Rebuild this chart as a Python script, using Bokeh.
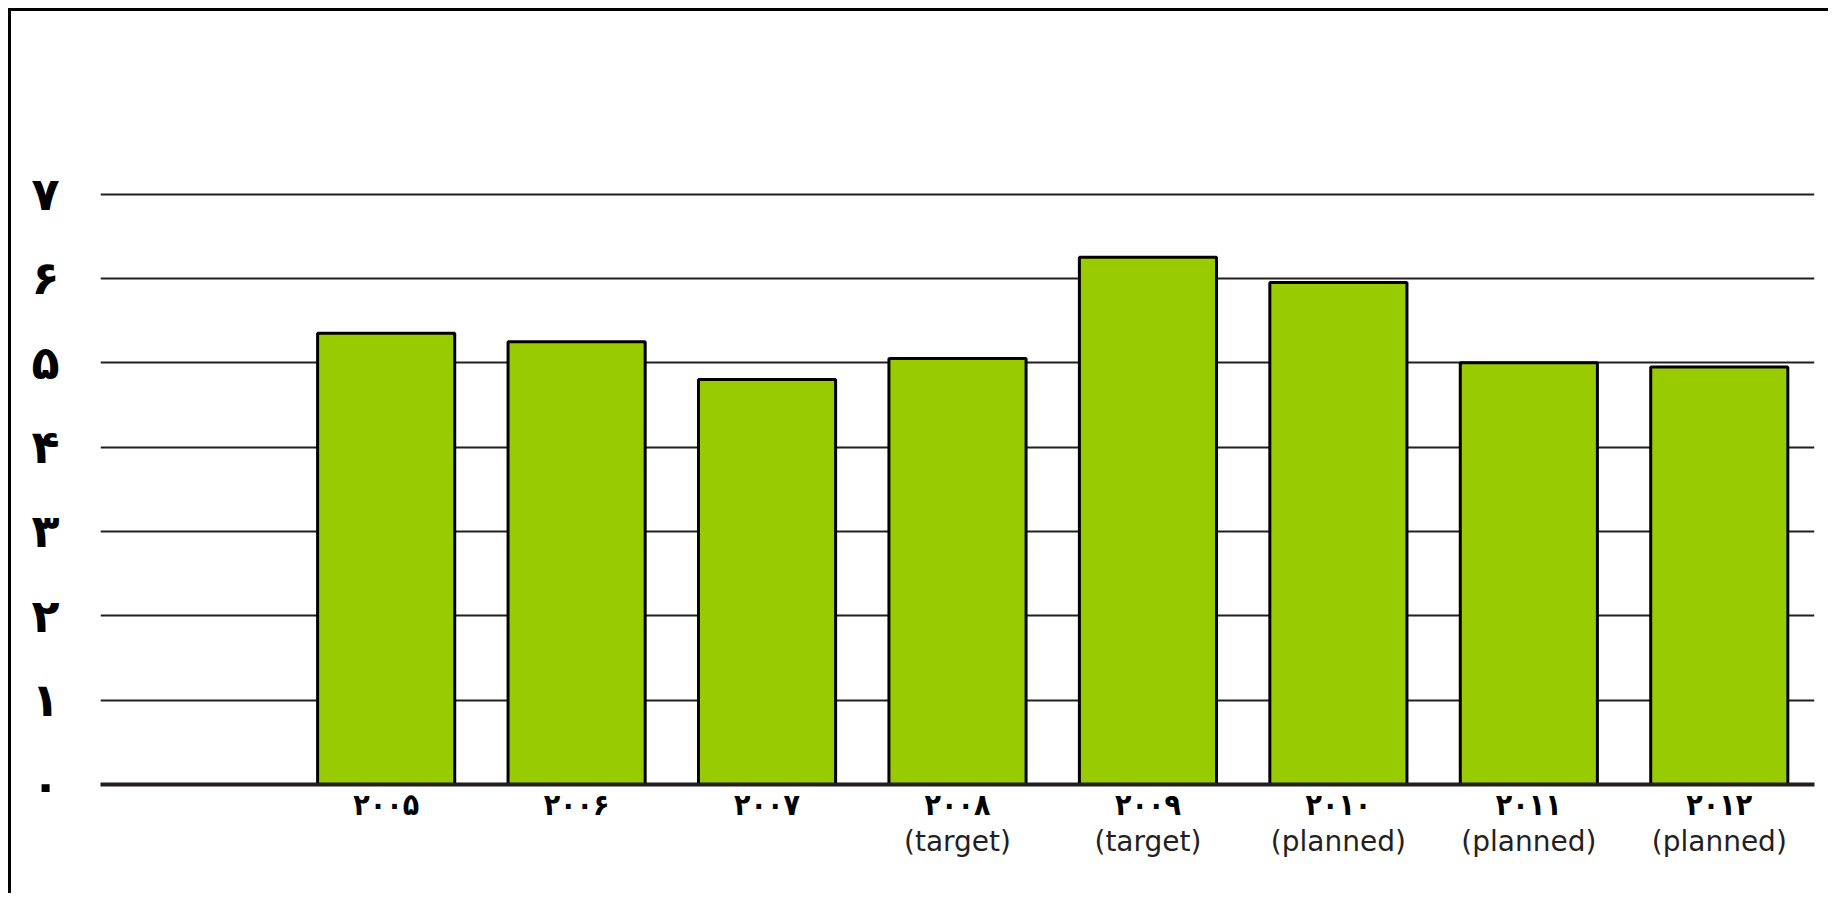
from bokeh.plotting import figure
from bokeh.models import (FactorRange, Range1d, FixedTicker, CategoricalAxis,
                          ColumnDataSource, CustomJSTickFormatter)
from bokeh.embed import file_html
from bokeh.resources import INLINE

# ---- data ----
factors = ["-", "2005", "2006", "2007", "2008", "2009", "2010", "2011", "2012"]
years = ["2005", "2006", "2007", "2008", "2009", "2010", "2011", "2012"]
values = [5.35, 5.25, 4.8, 5.05, 6.25, 5.95, 5.0, 4.95]
year_labels = ["۲۰۰۵", "۲۰۰۶", "۲۰۰۷", "۲۰۰۸", "۲۰۰۹", "۲۰۱۰", "۲۰۱۱", "۲۰۱۲"]
status_labels = ["", "", "", "(target)", "(target)", "(planned)", "(planned)", "(planned)"]
y_ticks = [0, 1, 2, 3, 4, 5, 6, 7]
y_tick_labels = ["۰", "۱", "۲", "۳", "۴", "۵", "۶", "۷"]

GREEN = "#99CC00"
DARK = "#231f20"

p = figure(width=1820, height=885,
           x_range=FactorRange(*factors), y_range=Range1d(0, 7.03),
           output_backend="svg", toolbar_location=None,
           min_border_left=89, min_border_right=17,
           min_border_top=180, min_border_bottom=112)
p.styles = {"border-left": "3px solid #000", "border-top": "3px solid #000",
            "margin-left": "8px", "margin-top": "8px"}
p.outline_line_color = None
p.background_fill_color = "white"
p.border_fill_color = "white"

src = ColumnDataSource(dict(x=years, top=values))
p.vbar(x="x", top="top", width=0.72, bottom=0, source=src,
       fill_color=GREEN, line_color="black", line_width=3)

# grid
p.xgrid.grid_line_color = None
p.ygrid.ticker = FixedTicker(ticks=y_ticks)
p.ygrid.grid_line_color = DARK
p.ygrid.grid_line_width = 2

# y axis
ya = p.yaxis[0]
ya.ticker = FixedTicker(ticks=y_ticks)
ya.major_label_overrides = {t: l for t, l in zip(y_ticks, y_tick_labels)}
ya.axis_line_color = None
ya.major_tick_line_color = None
ya.minor_tick_line_color = None
ya.major_label_standoff = 35
ya.major_label_text_font = "DejaVu Sans"
ya.major_label_text_font_style = "bold"
ya.major_label_text_font_size = "46px"
ya.major_label_text_color = "black"

year_map = dict(zip(years, year_labels))
status_map = dict(zip(years, status_labels))
js = "const v = m[tick]; return (v === undefined) ? '' : v;"

# x axis (years)
xa = p.xaxis[0]
xa.axis_line_color = DARK
xa.axis_line_width = 4
xa.major_tick_line_color = None
xa.minor_tick_line_color = None
xa.major_label_standoff = -4
xa.formatter = CustomJSTickFormatter(args=dict(m=year_map), code=js)
xa.major_label_text_font = "DejaVu Sans Condensed"
xa.major_label_text_font_style = "bold"
xa.major_label_text_font_size = "30px"
xa.major_label_text_color = "black"

# second x axis (status)
xa2 = CategoricalAxis()
xa2.axis_line_color = None
xa2.major_tick_line_color = None
xa2.minor_tick_line_color = None
xa2.major_label_standoff = -6
xa2.formatter = CustomJSTickFormatter(args=dict(m=status_map), code=js)
xa2.major_label_text_font = "DejaVu Sans"
xa2.major_label_text_font_size = "28px"
xa2.major_label_text_color = DARK
p.add_layout(xa2, "below")

open("out.html", "w").write(file_html(p, INLINE))
